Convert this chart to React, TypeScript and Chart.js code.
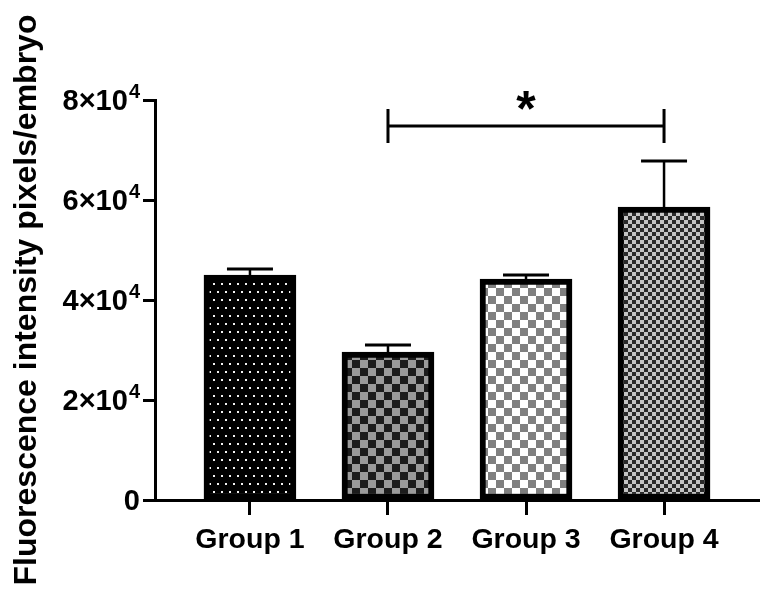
import React, { useEffect, useRef } from 'react';
import { Chart, registerables } from 'chart.js';

Chart.register(...registerables);

const categories = ['Group 1', 'Group 2', 'Group 3', 'Group 4'];
const means = [45000, 29600, 44200, 58600];
const sems = [1200, 1400, 800, 9200];
const yTicks = [0, 20000, 40000, 60000, 80000];
const yTickBases = ['0', '2×10', '4×10', '6×10', '8×10'];
const yTickExps = ['', '4', '4', '4', '4'];
const sigPair = [1, 3];
const sigValue = 74800;
const sigLabel = '*';
const yTitle = 'Fluorescence intensity pixels/embryo';

const FONT = '"Liberation Sans", Arial, sans-serif';

function makePattern(kind: number): CanvasPattern | string {
  const c = document.createElement('canvas');
  const g = c.getContext('2d');
  if (!g) return '#000';
  if (kind === 0) {
    c.width = 8; c.height = 16;
    g.fillStyle = '#000'; g.fillRect(0, 0, 8, 16);
    g.fillStyle = '#f2f2f2';
    g.fillRect(1, 3, 2, 2);
    g.fillRect(5, 11, 2, 2);
  } else if (kind === 1) {
    c.width = 16; c.height = 16;
    g.fillStyle = '#1c1c1c'; g.fillRect(0, 0, 16, 16);
    g.fillStyle = '#9a9a9a';
    g.fillRect(0, 0, 8, 8); g.fillRect(8, 8, 8, 8);
  } else if (kind === 2) {
    c.width = 16; c.height = 16;
    g.fillStyle = '#ffffff'; g.fillRect(0, 0, 16, 16);
    g.fillStyle = '#808080';
    g.fillRect(0, 0, 8, 8); g.fillRect(8, 8, 8, 8);
  } else {
    c.width = 8; c.height = 8;
    g.fillStyle = '#2a2a2a'; g.fillRect(0, 0, 8, 8);
    g.fillStyle = '#c4c4c4';
    g.fillRect(0, 0, 4, 4); g.fillRect(4, 4, 4, 4);
  }
  const p = g.createPattern(c, 'repeat');
  return p || '#000';
}

const overlayPlugin = {
  id: 'overlay',
  afterDraw(chart: any) {
    const { ctx, scales } = chart;
    const ys = scales.y;
    ctx.save();
    ctx.fillStyle = '#000';
    ctx.textBaseline = 'alphabetic';
    ctx.textAlign = 'left';
    const rightEdge = ys.right - 12 - 3;
    yTicks.forEach((v, i) => {
      const y = ys.getPixelForValue(v);
      const base = yTickBases[i];
      const exp = yTickExps[i];
      ctx.font = `bold 20px ${FONT}`;
      const we = exp ? ctx.measureText(exp).width + 1 : 0;
      ctx.font = `bold 29px ${FONT}`;
      const wb = ctx.measureText(base).width;
      const x0 = rightEdge - we - wb;
      ctx.fillText(base, x0, y + 10);
      if (exp) {
        ctx.font = `bold 20px ${FONT}`;
        ctx.fillText(exp, x0 + wb + 1, y - 2);
      }
    });
    ctx.restore();
  },
  afterDatasetsDraw(chart: any) {
    const { ctx, scales } = chart;
    const xs = scales.x;
    const ys = scales.y;
    ctx.save();
    ctx.strokeStyle = '#000';
    ctx.lineCap = 'butt';
    means.forEach((m, i) => {
      const x = xs.getPixelForValue(i);
      const yTop = ys.getPixelForValue(m);
      const yCap = ys.getPixelForValue(m + sems[i]);
      ctx.lineWidth = 2.5;
      ctx.beginPath();
      ctx.moveTo(x, yTop);
      ctx.lineTo(x, yCap);
      ctx.stroke();
      ctx.lineWidth = 3;
      ctx.beginPath();
      ctx.moveTo(x - 23, yCap);
      ctx.lineTo(x + 23, yCap);
      ctx.stroke();
    });
    const x1 = xs.getPixelForValue(sigPair[0]);
    const x2 = xs.getPixelForValue(sigPair[1]);
    const yb = ys.getPixelForValue(sigValue);
    ctx.lineWidth = 3;
    ctx.beginPath();
    ctx.moveTo(x1, yb); ctx.lineTo(x2, yb);
    ctx.moveTo(x1, yb - 17); ctx.lineTo(x1, yb + 17);
    ctx.moveTo(x2, yb - 17); ctx.lineTo(x2, yb + 17);
    ctx.stroke();
    ctx.fillStyle = '#000';
    ctx.font = `bold 50px ${FONT}`;
    ctx.textAlign = 'center';
    ctx.textBaseline = 'alphabetic';
    ctx.fillText(sigLabel, (x1 + x2) / 2, yb);
    ctx.restore();
  },
};

export default function App() {
  const ref = useRef<HTMLCanvasElement | null>(null);
  useEffect(() => {
    if (!ref.current) return;
    const patterns = categories.map((_, i) => makePattern(i));
    const chart = new Chart(ref.current, {
      type: 'bar',
      data: {
        datasets: [
          {
            data: means.map((v, i) => ({ x: i, y: v })),
            backgroundColor: patterns as any,
            borderColor: '#000',
            borderWidth: 6,
            borderSkipped: false,
            barThickness: 92,
          } as any,
        ],
      },
      options: {
        animation: false,
        responsive: true,
        maintainAspectRatio: false,
        layout: { padding: { top: 100, right: 11, left: 0, bottom: 0 } },
        plugins: { legend: { display: false }, tooltip: { enabled: false } },
        scales: {
          x: {
            type: 'linear',
            offset: false,
            min: -0.688,
            max: 3.688,
            afterBuildTicks: (s: any) => {
              s.ticks = categories.map((_, i) => ({ value: i }));
            },
            afterFit: (s: any) => { s.height = 99; },
            ticks: {
              callback: (v: any) => categories[Math.round(Number(v))] ?? '',
              color: '#000',
              font: { family: FONT, size: 28.5, weight: 'bold' },
              padding: 8,
              maxRotation: 0,
              autoSkip: false,
            },
            grid: {
              offset: false,
              drawOnChartArea: false,
              drawTicks: true,
              tickLength: 15,
              tickWidth: 3,
              color: '#000',
            },
            border: { display: true, width: 3, color: '#000' },
          },
          y: {
            type: 'linear',
            min: 0,
            max: 80000,
            afterBuildTicks: (s: any) => {
              s.ticks = yTicks.map((v) => ({ value: v }));
            },
            afterFit: (s: any) => { s.width = 155; },
            ticks: {
              display: false,
            },
            grid: {
              drawOnChartArea: false,
              drawTicks: true,
              tickLength: 12,
              tickWidth: 3,
              color: '#000',
            },
            border: { display: true, width: 3, color: '#000' },
            title: {
              display: true,
              text: yTitle,
              color: '#000',
              font: { family: FONT, size: 32, weight: 'bold' },
              padding: { top: 8, bottom: 0 },
            },
          },
        },
      },
      plugins: [overlayPlugin],
    } as any);
    return () => chart.destroy();
  }, []);
  return (
    <div style={{ position: 'fixed', left: 0, top: 0, width: 770, height: 599, background: '#fff' }}>
      <canvas ref={ref} />
    </div>
  );
}
